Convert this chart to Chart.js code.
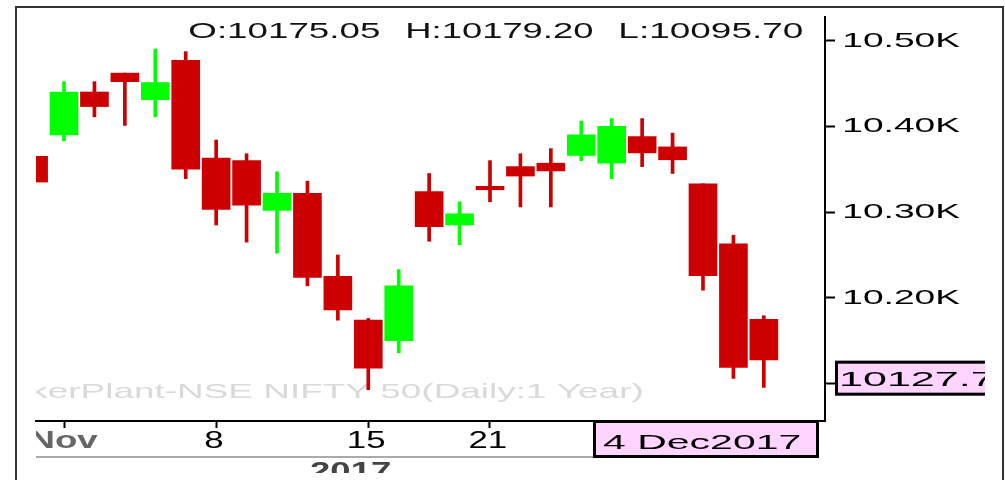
<!DOCTYPE html>
<html>
<head>
<meta charset="utf-8">
<script src="https://cdn.jsdelivr.net/npm/chart.js@4.4.1/dist/chart.umd.min.js"></script>
<style>
html, body { margin: 0; padding: 0; background: #fff; overflow: hidden; }
canvas { display: block; }
</style>
</head>
<body>
<canvas id="mycanvas" width="1005" height="480"></canvas>
<script>
// daily candles, 31 Oct 2017 .. 4 Dec 2017
var dates = ['31 Oct', '1 Nov', '2 Nov', '3 Nov', '6 Nov', '7 Nov', '8 Nov', '9 Nov', '10 Nov',
	'13 Nov', '14 Nov', '15 Nov', '16 Nov', '17 Nov', '20 Nov', '21 Nov', '22 Nov', '23 Nov',
	'24 Nov', '27 Nov', '28 Nov', '29 Nov', '30 Nov', '1 Dec', '4 Dec'];
var open  = [10365, 10390, 10440, 10462, 10431, 10477, 10363, 10360, 10302, 10322, 10225, 10174, 10150,
	10324, 10285, 10330, 10353, 10357, 10366, 10357, 10388, 10376, 10333, 10263, 10175.05];
var high  = [10367, 10452, 10452, 10462, 10490, 10487, 10384, 10368, 10347, 10336, 10250, 10176, 10233,
	10345, 10312, 10360, 10368, 10374, 10406, 10409, 10409, 10392, 10333, 10273, 10179.20];
var low   = [10311, 10383, 10411, 10401, 10411, 10339, 10285, 10265, 10252, 10214, 10174, 10093, 10136,
	10266, 10262, 10312, 10306, 10306, 10360, 10339, 10353, 10345, 10209, 10106, 10095.70];
var close = [10335, 10440, 10423, 10452, 10451, 10350, 10303, 10308, 10322, 10224, 10186, 10118, 10214,
	10283, 10298, 10326, 10342, 10348, 10390, 10400, 10369, 10361, 10226, 10119, 10127.75];

var xTickIndex  = [1, 6, 11, 15, 20];
var xTickLabels = ['Nov', '8', '15', '21', '28'];
var yTicks = [10100, 10200, 10300, 10400, 10500];
var yearLabel = '2017';
var lastDate = '4 Dec2017';
var watermark = 'kerPlant-NSE NIFTY 50(Daily:1 Year)';

var up = '#00ff00', down = '#cc0000', pink = '#ffd5ff';
var last = close.length - 1;
var colors = close.map(function(c, i) { return c >= open[i] ? up : down; });
var bodyData = dates.map(function(d, i) { return {x: i, y: [open[i], close[i]]}; });
var wickData = dates.map(function(d, i) { return {x: i, y: [low[i], high[i]]}; });

var FONT = 'Liberation Sans';

// draw text stretched horizontally; o.width fits the ink width, o.sx gives the stretch
function stretchText(ctx, s, o) {
	ctx.save();
	ctx.font = o.font;
	var m = ctx.measureText(s);
	var capH = ctx.measureText('H').actualBoundingBoxAscent;
	var inkW = m.actualBoundingBoxLeft + m.actualBoundingBoxRight;
	var sx = o.sx;
	if (o.width) sx = o.width / inkW;
	var left = o.center !== undefined ? o.center - inkW * sx / 2 : o.left;
	ctx.fillStyle = o.color || '#000';
	ctx.textAlign = 'left';
	ctx.textBaseline = 'alphabetic';
	ctx.translate(left + m.actualBoundingBoxLeft * sx, o.cy + capH / 2);
	ctx.scale(sx, 1);
	ctx.fillText(s, 0, 0);
	ctx.restore();
	return sx;
}

function fitScale(ctx, s, font, width) {
	ctx.save();
	ctx.font = font;
	var m = ctx.measureText(s);
	ctx.restore();
	return width / (m.actualBoundingBoxLeft + m.actualBoundingBoxRight);
}

var decor = {
	id: 'decor',
	beforeDatasetsDraw: function(chart) {
		var ctx = chart.ctx, a = chart.chartArea;
		ctx.save();
		ctx.beginPath();
		ctx.rect(a.left, a.top - 20, a.right - a.left, a.bottom - a.top + 20);
		ctx.clip();
		stretchText(ctx, watermark, {font: '21px ' + FONT, left: 31, width: 611, cy: 391, color: '#d9d9d9'});
		ctx.restore();

		var f = '22px ' + FONT;
		stretchText(ctx, 'O:' + open[last].toFixed(2), {font: f, left: 190, width: 190, cy: 30, color: '#111'});
		stretchText(ctx, 'H:' + high[last].toFixed(2), {font: f, left: 407, width: 186, cy: 30, color: '#111'});
		stretchText(ctx, 'L:' + low[last].toFixed(2), {font: f, left: 620, width: 183, cy: 30, color: '#111'});
	},
	afterDraw: function(chart) {
		var ctx = chart.ctx, x = chart.scales.x, y = chart.scales.y;

		// outer frame
		ctx.fillStyle = '#333';
		ctx.fillRect(15, 6, 2, 474);
		ctx.fillRect(15, 6, 989, 2);
		ctx.fillRect(1002, 6, 2, 474);

		// y labels
		y.ticks.forEach(function(t) {
			var lbl = (t.value / 1000).toFixed(2) + 'K';
			stretchText(ctx, lbl, {font: '21px ' + FONT, left: 844, width: 116, cy: y.getPixelForValue(t.value) - 1});
		});

		// x labels
		ctx.save();
		ctx.beginPath();
		ctx.rect(36, 421, 1000, 60);
		ctx.clip();
		var sx = fitScale(ctx, '15', '23px ' + FONT, 36);
		xTickIndex.forEach(function(v, i) {
			var px = x.getPixelForValue(v);
			if (i === 0) {
				stretchText(ctx, xTickLabels[i], {font: 'bold 23px ' + FONT, center: px, width: 68, cy: 439, color: '#666'});
			} else {
				stretchText(ctx, xTickLabels[i], {font: '23px ' + FONT, center: px - 2, sx: sx, cy: 439});
			}
		});
		ctx.restore();

		ctx.fillStyle = '#aaa';
		ctx.fillRect(36, 456, 557, 2);

		ctx.save();
		ctx.beginPath();
		ctx.rect(36, 458, 560, 15);
		ctx.clip();
		stretchText(ctx, yearLabel, {font: 'bold 23px ' + FONT, center: 350, width: 80, cy: 470, color: '#444'});
		ctx.restore();

		// last price box
		var py = y.getPixelForValue(yTicks[0]);
		ctx.save();
		ctx.beginPath();
		ctx.rect(0, 0, 985, 480);
		ctx.clip();
		ctx.fillStyle = pink;
		ctx.fillRect(835, py - 23, 180, 35);
		ctx.strokeStyle = '#000';
		ctx.lineWidth = 3;
		ctx.strokeRect(836.5, py - 21.5, 180, 32);
		var ps = close[last].toFixed(2);
		var psx = fitScale(ctx, ps.slice(0, 6), '21px ' + FONT, 126);
		stretchText(ctx, ps, {font: '21px ' + FONT, left: 841, sx: psx, cy: py - 5});
		ctx.restore();

		// date box
		ctx.fillStyle = pink;
		ctx.fillRect(593, 421, 226, 37);
		ctx.strokeStyle = '#000';
		ctx.lineWidth = 3;
		ctx.strokeRect(594.5, 421.5, 223, 35);
		stretchText(ctx, lastDate, {font: '21px ' + FONT, left: 603, width: 197, cy: 442});
	}
};

var ctx = document.getElementById('mycanvas');
var chart = new Chart(ctx, {
	type: 'bar',
	data: {
		datasets: [
			{
				label: 'body',
				data: bodyData,
				backgroundColor: colors,
				borderWidth: 0,
				grouped: false,
				barPercentage: 1,
				categoryPercentage: 1,
				maxBarThickness: 28
			},
			{
				label: 'wick',
				data: wickData,
				backgroundColor: colors,
				borderWidth: 0,
				grouped: false,
				barPercentage: 1,
				categoryPercentage: 1,
				maxBarThickness: 3
			}
		]
	},
	options: {
		responsive: false,
		animation: false,
		layout: {padding: {left: 36, top: 17, right: 0, bottom: 0}},
		plugins: {legend: {display: false}, tooltip: {enabled: false}},
		scales: {
			x: {
				type: 'linear',
				position: 'bottom',
				min: 0.079,
				max: 26.01,
				offset: false,
				grid: {offset: false, drawOnChartArea: false, drawTicks: true, tickLength: 7, tickWidth: 2, tickColor: '#000'},
				border: {color: '#000', width: 2},
				ticks: {display: false},
				afterBuildTicks: function(s) { s.ticks = xTickIndex.map(function(v) { return {value: v}; }); },
				afterFit: function(s) { s.height = 59; }
			},
			y: {
				type: 'linear',
				position: 'right',
				min: 10056.5,
				max: 10527.4,
				grid: {drawOnChartArea: false, drawTicks: true, tickLength: 10, tickWidth: 2, tickColor: '#000'},
				border: {color: '#000', width: 2},
				ticks: {display: false},
				afterBuildTicks: function(s) { s.ticks = yTicks.map(function(v) { return {value: v}; }); },
				afterFit: function(s) { s.width = 180; }
			}
		}
	},
	plugins: [decor]
});
</script>
</body>
</html>
